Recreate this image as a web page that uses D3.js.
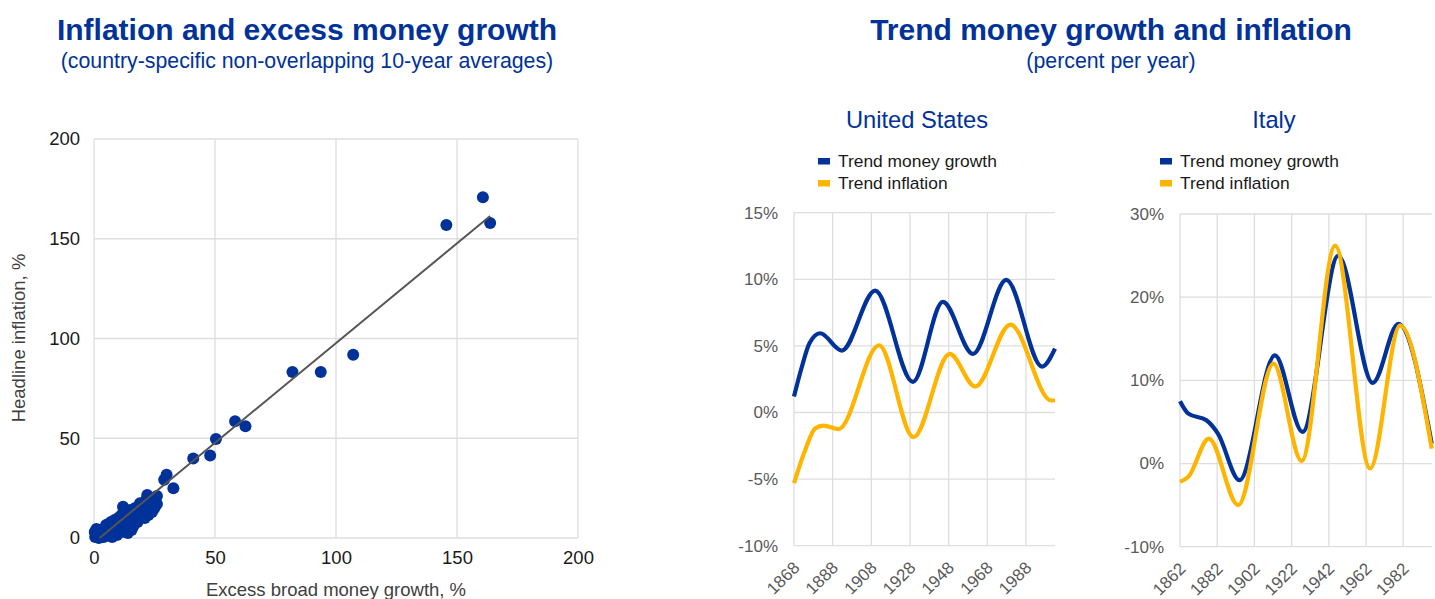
<!DOCTYPE html>
<html>
<head>
<meta charset="utf-8">
<script src="https://cdn.jsdelivr.net/npm/d3@7"></script>
<style>
  html, body { margin: 0; padding: 0; background: #fff; }
  svg { display: block; font-family: "Liberation Sans", Arial, sans-serif; }
</style>
</head>
<body>
<svg id="chart" width="1435" height="599"></svg>
<script>
// ---- Scatter: excess broad money growth vs headline inflation (%) ----
const excessMoney = [
  0.5, 1, 1.5, 2, 2.5, 3, 3, 3.5, 4, 4.5, 5, 5, 5.5, 6, 6, 6.5, 7, 7, 7.5, 8,
  8, 8.5, 9, 9, 9.5, 10, 10, 10.5, 11, 11, 11.5, 12, 12, 12, 12.5, 13, 13, 13.5, 14, 14,
  14.5, 15, 15, 15, 15.5, 16, 16, 16.5, 17, 17, 18, 18, 19, 19.5, 20, 21, 21.5, 22, 22.5, 23,
  24, 24.5, 25, 25.5, 26, 26, 2, 4, 1, 0.3, 9.5, 13, 16, 8,
  29, 30, 32.8, 41, 48, 50.4, 58.3, 62.6, 82, 93.7, 107.1, 145.6, 160.7, 163.7
];
const headlineInflation = [
  0.5, 2, 1, 3.5, 0.5, 2, 4, 1, 3, 5, 1.5, 6.5, 3, 4.5, 7, 2, 5.5, 8, 0.5, 3.5,
  6.5, 9, 4.5, 7.5, 2, 6, 10, 8.5, 3, 11, 6.5, 9, 12.5, 15.7, 4.5, 7, 11, 13, 2.5, 9.5,
  5, 7, 12, 14, 4, 9, 13, 6.5, 10, 15, 8, 12.5, 17.4, 11, 14, 10, 19, 21.6, 11.5, 16,
  13, 18, 15, 20, 17, 21, 0, 0.5, 4.5, 3, 1.5, 3, 5.5, 1.5,
  29.2, 31.7, 24.9, 39.8, 41.4, 49.6, 58.5, 56, 83.2, 83.2, 91.9, 156.9, 170.8, 157.9
];
// Fitted trend line: endpoints in excess money growth, y = slope * x + intercept
const fitRange = [2.3, 163.7];
const fitSlope = [1.0];
const fitIntercept = [-2.3];
const scatterTicks = [0, 50, 100, 150, 200];

// ---- Trend money growth and inflation (% per year) ----
const usYears      = [1868, 1872, 1876, 1881.5, 1892.7, 1910, 1929.5, 1945, 1960.6, 1977.8, 1996.3, 2003];
const usMoney      = [1.2, 3.4, 5.2, 5.95, 4.65, 9.15, 2.3, 8.3, 4.4, 9.95, 3.45, 4.8];
const usInflYears  = [1868, 1873.7, 1878.9, 1883.2, 1891, 1912, 1929.8, 1948.5, 1961.8, 1979.9, 2001, 2003];
const usInflation  = [-5.3, -2.85, -1.2, -0.98, -1.25, 5.05, -1.85, 4.4, 1.95, 6.6, 0.9, 0.9];

const itYears      = [1862, 1866.5, 1876.2, 1882.4, 1894, 1913, 1927.9, 1947.1, 1965.6, 1979.4, 1997.3];
const itMoney      = [7.5, 6.0, 5.2, 3.6, -2.0, 13.0, 3.8, 25.0, 9.7, 16.8, 2.4];
const itInflYears  = [1862, 1866.5, 1877.5, 1893.3, 1912.2, 1927.4, 1945.4, 1964.2, 1980.3, 1997.3];
const itInflation  = [-2.2, -1.6, 3.0, -5.0, 12.0, 0.3, 26.2, -0.6, 16.6, 1.8];

const usYearTicks = [1868, 1888, 1908, 1928, 1948, 1968, 1988];
const itYearTicks = [1862, 1882, 1902, 1922, 1942, 1962, 1982];
const usPctTicks = [-10, -5, 0, 5, 10, 15];
const itPctTicks = [-10, 0, 10, 20, 30];

const seriesNames = ["Trend money growth", "Trend inflation"];

// ---- Styling ----
const BLUE = "#003299";
const ORANGE = "#FFB400";
const GRID = "#dedede";

const svg = d3.select("#chart");

// Headline titles
function headline(cx, title, sub) {
  svg.append("text").attr("x", cx).attr("y", 40).attr("text-anchor", "middle")
    .attr("font-size", 30).attr("font-weight", "bold").attr("fill", BLUE).text(title);
  svg.append("text").attr("x", cx).attr("y", 68).attr("text-anchor", "middle")
    .attr("font-size", 21.3).attr("fill", BLUE).text(sub);
}
headline(307, "Inflation and excess money growth", "(country-specific non-overlapping 10-year averages)");
headline(1111, "Trend money growth and inflation", "(percent per year)");

// ---- Scatter panel ----
{
  const x = d3.scaleLinear().domain([0, 200]).range([94, 578]);
  const y = d3.scaleLinear().domain([0, 200]).range([538, 139]);
  const g = svg.append("g");

  g.append("g").selectAll("line").data(scatterTicks).join("line")
    .attr("x1", d => x(d)).attr("x2", d => x(d))
    .attr("y1", y(0)).attr("y2", y(200))
    .attr("stroke", GRID).attr("stroke-width", 1.3);
  g.append("g").selectAll("line").data(scatterTicks).join("line")
    .attr("x1", x(0)).attr("x2", x(200))
    .attr("y1", d => y(d)).attr("y2", d => y(d))
    .attr("stroke", GRID).attr("stroke-width", 1.3);

  const xAxis = g.append("g").attr("transform", `translate(0,${y(0)})`)
    .call(d3.axisBottom(x).tickValues(scatterTicks).tickSize(0).tickPadding(13));
  const yAxis = g.append("g").attr("transform", `translate(${x(0)},0)`)
    .call(d3.axisLeft(y).tickValues(scatterTicks).tickSize(0).tickPadding(14));
  [xAxis, yAxis].forEach(a => {
    a.select(".domain").remove();
    a.selectAll("text").attr("font-size", 18.5).attr("fill", "#1a1a1a")
      .attr("font-family", "Liberation Sans, Arial, sans-serif");
  });

  const pts = excessMoney.map((v, i) => [v, headlineInflation[i]]);
  g.append("g").selectAll("circle").data(pts).join("circle")
    .attr("cx", d => x(d[0])).attr("cy", d => y(d[1])).attr("r", 6)
    .attr("fill", BLUE);

  g.append("line")
    .attr("x1", x(fitRange[0])).attr("y1", y(fitSlope[0] * fitRange[0] + fitIntercept[0]))
    .attr("x2", x(fitRange[1])).attr("y2", y(fitSlope[0] * fitRange[1] + fitIntercept[0]))
    .attr("stroke", "#555").attr("stroke-width", 2);

  g.append("text").attr("x", 336).attr("y", 596).attr("text-anchor", "middle")
    .attr("font-size", 18.5).attr("fill", "#404040").text("Excess broad money growth, %");
  g.append("text").attr("transform", "translate(25,338) rotate(-90)").attr("text-anchor", "middle")
    .attr("font-size", 18.5).attr("fill", "#404040").text("Headline inflation, %");
}

// ---- Line panels ----
function linePanel(opt) {
  const x = d3.scaleLinear().domain(opt.xDomain).range([opt.left, opt.right]);
  const y = d3.scaleLinear().domain(opt.yDomain).range([opt.bottom, opt.top]);
  const g = svg.append("g");

  g.append("text").attr("x", opt.titleX).attr("y", 128).attr("text-anchor", "middle")
    .attr("font-size", 23.7).attr("fill", BLUE).text(opt.title);

  // legend
  const lg = g.append("g").attr("transform", `translate(${opt.legendX},0)`);
  seriesNames.forEach((name, i) => {
    lg.append("rect").attr("x", 0).attr("y", 158 + i * 22).attr("width", 12).attr("height", 6.5)
      .attr("fill", i === 0 ? BLUE : ORANGE);
    lg.append("text").attr("x", 20).attr("y", 167 + i * 22).attr("font-size", 17.4)
      .attr("fill", "#1a1a1a").text(name);
  });

  // grid
  g.append("g").selectAll("line").data(opt.yTicks).join("line")
    .attr("x1", opt.left).attr("x2", opt.right)
    .attr("y1", d => y(d)).attr("y2", d => y(d))
    .attr("stroke", GRID).attr("stroke-width", 1.3);
  g.append("g").selectAll("line").data(opt.xTicks).join("line")
    .attr("x1", d => x(d)).attr("x2", d => x(d))
    .attr("y1", opt.top).attr("y2", opt.bottom)
    .attr("stroke", GRID).attr("stroke-width", 1.3);

  // y axis labels
  const ya = g.append("g").attr("transform", `translate(${opt.left},0)`)
    .call(d3.axisLeft(y).tickValues(opt.yTicks).tickSize(0).tickPadding(16).tickFormat(d => d + "%"));
  ya.select(".domain").remove();
  ya.selectAll("text").attr("font-size", 17).attr("fill", "#595959")
    .attr("font-family", "Liberation Sans, Arial, sans-serif");

  // x axis labels, rotated
  const xa = g.append("g").attr("transform", `translate(0,${opt.bottom})`)
    .call(d3.axisBottom(x).tickValues(opt.xTicks).tickSize(0).tickFormat(d3.format("d")));
  xa.select(".domain").remove();
  xa.selectAll("text").attr("font-size", 17).attr("fill", "#595959")
    .attr("font-family", "Liberation Sans, Arial, sans-serif")
    .attr("text-anchor", "end").attr("dy", 0)
    .attr("transform", "translate(4,21) rotate(-45)");

  const line = d3.line().x(d => x(d[0])).y(d => y(d[1])).curve(d3.curveMonotoneX);
  g.append("path").datum(opt.moneyX.map((v, i) => [v, opt.money[i]]))
    .attr("d", line).attr("fill", "none").attr("stroke", BLUE).attr("stroke-width", 4.2)
    .attr("stroke-linejoin", "round");
  g.append("path").datum(opt.inflX.map((v, i) => [v, opt.infl[i]]))
    .attr("d", line).attr("fill", "none").attr("stroke", ORANGE).attr("stroke-width", 4.2)
    .attr("stroke-linejoin", "round");
}

linePanel({
  title: "United States", titleX: 917, legendX: 818,
  xDomain: [1868, 2003], yDomain: [-10, 15],
  left: 794, right: 1055, top: 212.7, bottom: 545.7,
  xTicks: usYearTicks, yTicks: usPctTicks,
  moneyX: usYears, money: usMoney, inflX: usInflYears, infl: usInflation
});
linePanel({
  title: "Italy", titleX: 1274, legendX: 1160,
  xDomain: [1862, 1997.3], yDomain: [-10, 30],
  left: 1180, right: 1431.7, top: 214, bottom: 546.7,
  xTicks: itYearTicks, yTicks: itPctTicks,
  moneyX: itYears, money: itMoney, inflX: itInflYears, infl: itInflation
});
</script>
</body>
</html>
